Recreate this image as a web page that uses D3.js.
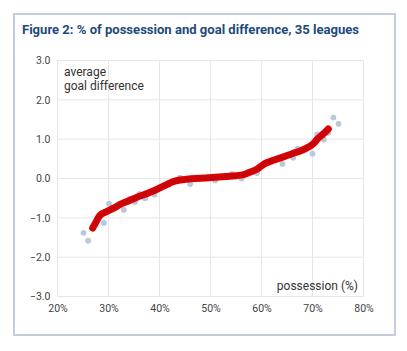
<!DOCTYPE html>
<html>
<head>
<meta charset="utf-8">
<script src="https://cdn.jsdelivr.net/npm/d3@7"></script>
<style>
  body { margin: 0; background: #fff; }
  svg { display: block; font-family: Roboto, "Noto Sans", sans-serif; }
</style>
</head>
<body>
<svg id="chart" width="407" height="351"></svg>
<script>
// Data
const xTicks = [20, 30, 40, 50, 60, 70, 80];
const yTicks = [3, 2, 1, 0, -1, -2, -3];

// league points: possession (%), average goal difference
const leaguePossession = [25.1, 26.0, 27.2, 28.1, 29.1, 30.1, 31.5, 33.0, 34.1, 35.2, 36.1, 37.2, 39.0, 41.7, 44.0, 46.0, 48.0, 50.9, 52.5, 54.2, 56.1, 58.7, 59.1, 61.3, 63.1, 64.1, 65.3, 66.2, 67.1, 70.0, 70.9, 72.2, 73.1, 74.1, 75.1];
const leagueGoalDiff  = [-1.38, -1.58, -1.18, -1.03, -1.13, -0.64, -0.74, -0.80, -0.52, -0.60, -0.39, -0.50, -0.41, -0.15, 0.02, -0.14, 0.00, -0.05, 0.04, 0.12, 0.00, 0.16, 0.14, 0.40, 0.50, 0.37, 0.58, 0.53, 0.76, 0.63, 1.12, 0.99, 1.16, 1.55, 1.39];

// smoothed trend
const trendPossession = [26.9, 27.5, 28.3, 29.3, 30.1, 31.2, 32.3, 33.9, 35.5, 37.2, 38.8, 40.1, 41.5, 42.5, 43.5, 45.3, 47, 49, 51, 53, 55, 56.5, 57.7, 59, 60, 61, 62.5, 64.3, 66, 67.6, 69.5, 70.3, 71, 72, 73.1];
const trendGoalDiff  = [-1.26, -1.12, -0.94, -0.86, -0.81, -0.74, -0.66, -0.57, -0.48, -0.40, -0.32, -0.24, -0.15, -0.09, -0.05, -0.02, 0.0, 0.01, 0.03, 0.05, 0.07, 0.10, 0.16, 0.23, 0.32, 0.40, 0.47, 0.55, 0.63, 0.70, 0.82, 0.90, 1.01, 1.12, 1.26];

const svg = d3.select("#chart");

// frame
svg.append("rect")
    .attr("x", 14).attr("y", 14)
    .attr("width", 381).attr("height", 321)
    .attr("fill", "#fff")
    .attr("stroke", "#c3cedd")
    .attr("stroke-width", 2);

svg.append("text")
    .attr("x", 22).attr("y", 34)
    .attr("font-size", 12.5)
    .attr("font-weight", "bold")
    .attr("fill", "#1e4a7a")
    .attr("textLength", 337)
    .attr("lengthAdjust", "spacingAndGlyphs")
    .text("Figure 2: % of possession and goal difference, 35 leagues");

const x = d3.scaleLinear().domain([20, 80]).range([57.5, 363.5]);
const y = d3.scaleLinear().domain([-3, 3]).range([296.5, 60.5]);

// grid
svg.append("g")
    .selectAll("line")
    .data(xTicks)
    .join("line")
    .attr("x1", d => x(d)).attr("x2", d => x(d))
    .attr("y1", y(3)).attr("y2", y(-3))
    .attr("stroke", "#e6e6e6");

svg.append("g")
    .selectAll("line")
    .data(yTicks)
    .join("line")
    .attr("x1", x(20)).attr("x2", x(80))
    .attr("y1", d => y(d)).attr("y2", d => y(d))
    .attr("stroke", "#e6e6e6");

// axes (labels only)
const xAxis = svg.append("g")
    .attr("transform", `translate(0,${y(-3)})`)
    .call(d3.axisBottom(x).tickValues(xTicks).tickSize(0).tickPadding(8).tickFormat(d => d + "%"));
const yAxis = svg.append("g")
    .attr("transform", `translate(${x(20)},0)`)
    .call(d3.axisLeft(y).tickValues(yTicks).tickSize(0).tickPadding(7).tickFormat(d3.format(".1f")));

[xAxis, yAxis].forEach(a => {
    a.select(".domain").remove();
    a.selectAll("text")
        .attr("font-family", "Roboto, sans-serif")
        .attr("font-size", 10.5)
        .attr("fill", "#444");
});
yAxis.selectAll("text").text(d => d3.format(".1f")(d).replace("-", "\u2212"));

// axis titles
svg.append("text")
    .attr("x", 64).attr("y", 76)
    .attr("font-size", 12).attr("fill", "#333")
    .text("average");
svg.append("text")
    .attr("x", 64).attr("y", 90)
    .attr("font-size", 12).attr("fill", "#333")
    .text("goal difference");
svg.append("text")
    .attr("x", 358).attr("y", 290)
    .attr("text-anchor", "end")
    .attr("font-size", 12).attr("fill", "#333")
    .text("possession (%)");

// league dots
svg.append("g")
    .selectAll("circle")
    .data(leaguePossession)
    .join("circle")
    .attr("cx", d => x(d))
    .attr("cy", (d, i) => y(leagueGoalDiff[i]))
    .attr("r", 2.9)
    .attr("fill", "#b9c8dc");

// trend line
const trend = trendPossession.map((p, i) => [p, trendGoalDiff[i]]);
const line = d3.line()
    .x(d => x(d[0]))
    .y(d => y(d[1]))
    .curve(d3.curveCatmullRom);

svg.append("path")
    .attr("d", line(trend))
    .attr("fill", "none")
    .attr("stroke", "#dd0000")
    .attr("stroke-width", 7)
    .attr("stroke-linecap", "round")
    .attr("stroke-linejoin", "round");

svg.append("path")
    .attr("d", line(trend))
    .attr("fill", "none")
    .attr("stroke", "#a5101c")
    .attr("stroke-width", 3)
    .attr("stroke-opacity", 0.45)
    .attr("stroke-dasharray", "3 2")
    .attr("stroke-linecap", "round");
</script>
</body>
</html>
